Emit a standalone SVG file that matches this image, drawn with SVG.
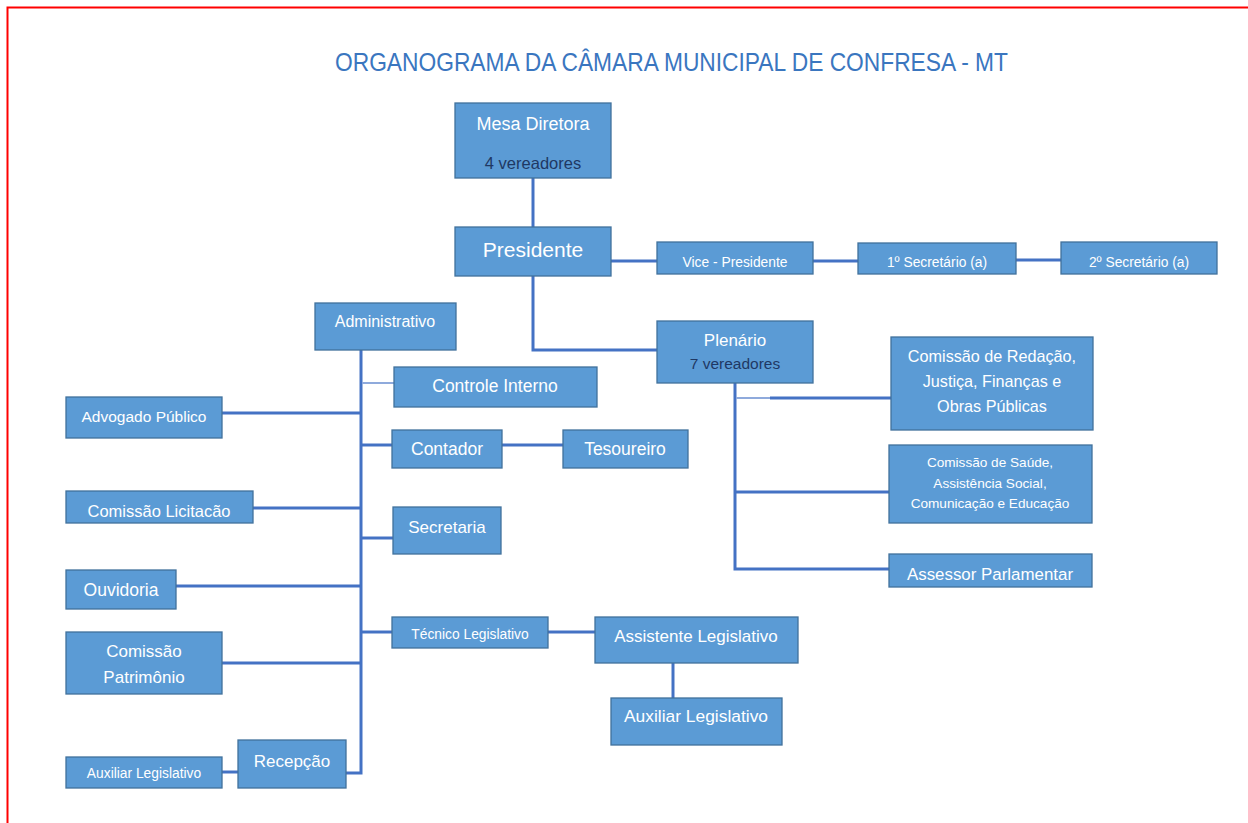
<svg xmlns="http://www.w3.org/2000/svg" width="1248" height="823" viewBox="0 0 1248 823">
<style>
.n{fill:#5B9BD5;stroke:#41719C;stroke-width:1.3}
.t{font-family:"Liberation Sans",Arial,sans-serif;fill:#FFFFFF;text-anchor:middle}
.d{font-family:"Liberation Sans",Arial,sans-serif;fill:#1F3864;text-anchor:middle}
.c{stroke:#4472C4;stroke-width:3;fill:none}
.l{stroke:#8FAADC;stroke-width:2;fill:none}
</style>
<rect width="1248" height="823" fill="#FFFFFF"/>
<path d="M7.5 823 V7.5 H1248" stroke="#FF0000" stroke-width="2" fill="none"/>
<text x="335" y="71" font-family="'Liberation Sans',Arial,sans-serif" font-size="25" fill="#3A76BF" textLength="673" lengthAdjust="spacingAndGlyphs">ORGANOGRAMA DA CÂMARA MUNICIPAL DE CONFRESA - MT</text>

<g id="connectors">
<path class="c" d="M533 178 V227"/>
<path class="c" d="M611 261 H657"/>
<path class="c" d="M813 261 H858"/>
<path class="c" d="M1016 260 H1061"/>
<path class="c" d="M533 276 V350 H657"/>
<path class="c" d="M361 350 V773 H346"/>
<path class="l" d="M362 383 H394"/>
<path class="c" d="M222 413 H361"/>
<path class="c" d="M361 445 H392"/>
<path class="c" d="M502 445 H563"/>
<path class="c" d="M253 508 H361"/>
<path class="c" d="M361 538 H393"/>
<path class="c" d="M176 586 H361"/>
<path class="c" d="M361 632 H392"/>
<path class="c" d="M548 632 H595"/>
<path class="c" d="M222 663 H361"/>
<path class="c" d="M222 772 H238"/>
<path class="c" d="M673 663 V698"/>
<path class="c" d="M735 383 V569 H889"/>
<path class="l" d="M736 398 H770"/>
<path class="c" d="M770 398 H891"/>
<path class="c" d="M735 492 H889"/>
</g>

<g id="mesa"><rect class="n" x="455" y="103" width="156" height="75"/><text class="t" x="533" y="130" font-size="18">Mesa Diretora</text><text class="d" x="533" y="169" font-size="16.5">4 vereadores</text></g>
<g id="presidente"><rect class="n" x="455" y="227" width="156" height="49"/><text class="t" x="533" y="257" font-size="21">Presidente</text></g>
<g id="vice"><rect class="n" x="657" y="242" width="156" height="32"/><text class="t" x="735" y="267" font-size="13.8">Vice - Presidente</text></g>
<g id="sec1"><rect class="n" x="858" y="243" width="158" height="31"/><text class="t" x="937" y="267" font-size="13.8">1º Secretário (a)</text></g>
<g id="sec2"><rect class="n" x="1061" y="242" width="156" height="32"/><text class="t" x="1139" y="267" font-size="13.8">2º Secretário (a)</text></g>
<g id="administrativo"><rect class="n" x="315" y="303" width="141" height="47"/><text class="t" x="385" y="327" font-size="16">Administrativo</text></g>
<g id="plenario"><rect class="n" x="657" y="321" width="156" height="62"/><text class="t" x="735" y="346" font-size="17">Plenário</text><text class="d" x="735" y="369" font-size="15.5">7 vereadores</text></g>
<g id="controle"><rect class="n" x="394" y="367" width="203" height="40"/><text class="t" x="495" y="392" font-size="17.5">Controle Interno</text></g>
<g id="advogado"><rect class="n" x="66" y="397" width="156" height="41"/><text class="t" x="144" y="422" font-size="15.5">Advogado Público</text></g>
<g id="contador"><rect class="n" x="392" y="430" width="110" height="38"/><text class="t" x="447" y="455" font-size="17.5">Contador</text></g>
<g id="tesoureiro"><rect class="n" x="563" y="430" width="125" height="38"/><text class="t" x="625" y="455" font-size="17.5">Tesoureiro</text></g>
<g id="licitacao"><rect class="n" x="66" y="491" width="187" height="32"/><text class="t" x="159" y="517" font-size="16.5">Comissão Licitacão</text></g>
<g id="secretaria"><rect class="n" x="393" y="507" width="108" height="47"/><text class="t" x="447" y="533" font-size="17">Secretaria</text></g>
<g id="ouvidoria"><rect class="n" x="66" y="570" width="110" height="39"/><text class="t" x="121" y="596" font-size="17.5">Ouvidoria</text></g>
<g id="tecnico"><rect class="n" x="392" y="617" width="156" height="31"/><text class="t" x="470" y="639" font-size="13.8">Técnico Legislativo</text></g>
<g id="assistente"><rect class="n" x="595" y="617" width="203" height="46"/><text class="t" x="696" y="642" font-size="17">Assistente Legislativo</text></g>
<g id="patrimonio"><rect class="n" x="66" y="632" width="156" height="62"/><text class="t" x="144" y="657" font-size="17">Comissão</text><text class="t" x="144" y="683" font-size="17">Patrimônio</text></g>
<g id="auxiliar-dir"><rect class="n" x="611" y="698" width="171" height="47"/><text class="t" x="696" y="722" font-size="17.4">Auxiliar Legislativo</text></g>
<g id="recepcao"><rect class="n" x="238" y="740" width="108" height="48"/><text class="t" x="292" y="767" font-size="17">Recepção</text></g>
<g id="auxiliar-esq"><rect class="n" x="66" y="757" width="156" height="31"/><text class="t" x="144" y="778" font-size="13.8">Auxiliar Legislativo</text></g>
<g id="redacao"><rect class="n" x="891" y="337" width="202" height="93"/><text class="t" x="992" y="362" font-size="16.2">Comissão de Redação,</text><text class="t" x="992" y="387" font-size="16.2">Justiça, Finanças e</text><text class="t" x="992" y="412" font-size="16.2">Obras Públicas</text></g>
<g id="saude"><rect class="n" x="889" y="445" width="203" height="78"/><text class="t" x="990" y="467" font-size="13.6">Comissão de Saúde,</text><text class="t" x="990" y="488" font-size="13.6">Assistência Social,</text><text class="t" x="990" y="508" font-size="13.6">Comunicação e Educação</text></g>
<g id="assessor"><rect class="n" x="889" y="554" width="203" height="33"/><text class="t" x="990" y="580" font-size="16.9">Assessor Parlamentar</text></g>
</svg>
